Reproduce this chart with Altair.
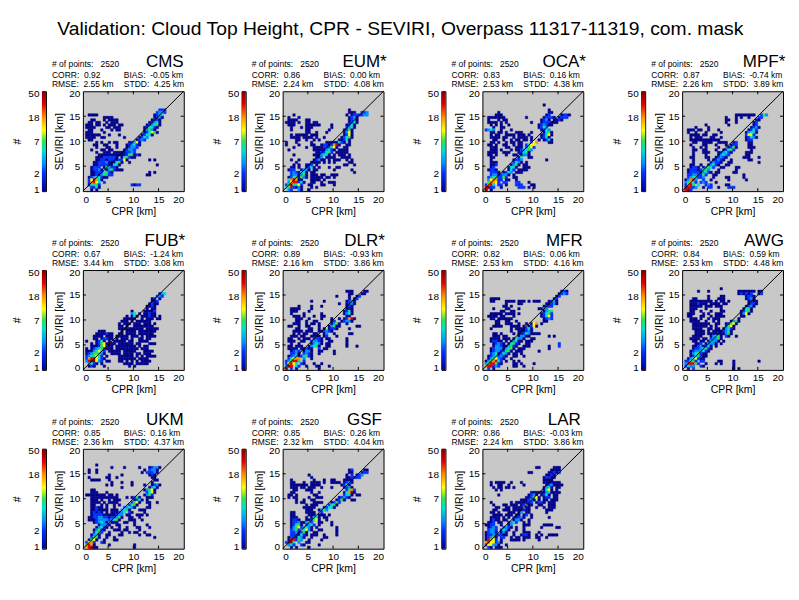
import altair as alt
import pandas as pd

FONT = "Liberation Sans"
TITLE = "Validation: Cloud Top Height, CPR - SEVIRI, Overpass 11317-11319, com. mask"
POINTS = 2520
NAMES = ["CMS", "EUM*", "OCA*", "MPF*", "FUB*", "DLR*", "MFR", "AWG", "UKM", "GSF", "LAR"]
CORR = ["0.92", "0.86", "0.83", "0.87", "0.67", "0.89", "0.82", "0.84", "0.85", "0.85", "0.86"]
BIAS = ["-0.05", "0.00", "0.16", "-0.74", "-1.24", "-0.93", "0.06", "0.59", "0.16", "0.26", "-0.03"]
RMSE = ["2.55", "2.24", "2.53", "2.26", "3.44", "2.16", "2.53", "2.53", "2.36", "2.32", "2.24"]
STDD = ["4.25", "4.08", "4.38", "3.89", "3.08", "3.86", "4.16", "4.48", "4.37", "4.04", "3.86"]

# level code -> number of points in a cell
COUNTS = [None, 1, 2, 3, 5, 7, 11, 18, 30, 48]
COLORS = ["#00008c", "#0030ff", "#0090ff", "#00e0d0", "#30e050", "#ffff00", "#ff9000", "#e00000", "#800000"]
CB_TICKS = [1, 2, 7, 18, 50]
AX_TICKS = [0, 5, 10, 15, 20]
DIAG_LO = 0
DIAG_HI = 20

# (row, column, level codes): a cell is 0.5 km wide, row = SEVIRI / 0.5, column = CPR / 0.5
CMS = [(32,30,"222"),(31,29,"2332"),(30,2,"1111"),(30,28,"1234"),(29,8,"1111"),(29,28,"1231"),
(28,3,"11"),(28,8,"1.1111"),(28,27,"1221"),(27,2,"11.11"),(27,9,"1.111"),(27,26,"12341"),
(26,1,"111.11"),(26,8,"1.111.11"),(26,25,"123451"),(25,1,"1111"),(25,9,"11.111"),(25,24,"124421"),
(24,2,"11"),(24,7,"1...1"),(24,13,"11"),(24,24,"13531"),(23,1,"111"),(23,8,"1"),(23,24,"124651"),
(22,1,"111111"),(22,10,"1"),(22,14,"1"),(22,23,"12441"),(21,1,"1111"),(21,7,"11"),(21,16,"1"),(21,22,"1243"),
(20,2,"11"),(20,21,"1232"),(19,5,"1.1"),(19,10,"1"),(19,12,"11"),(19,18,"12361"),
(18,4,"11"),(18,8,"11"),(18,13,"1"),(18,17,"123421"),(17,5,"1"),(17,9,"11"),(17,13,"1"),(17,17,"12332"),
(16,3,"1"),(16,7,"11"),(16,10,"11"),(16,16,"12332"),(15,5,"1"),(15,8,"111"),(15,12,"1111"),(15,16,"12232"),
(14,6,"1111111111"),(14,16,"12551"),(14,21,"21"),(13,5,"111222221"),(13,15,"1452"),(13,19,"11"),
(12,5,"112212221"),(12,14,"2261"),(12,26,"1.1"),(11,4,"11222311"),(11,12,"1451"),(11,18,"1"),
(10,4,"1122221"),(10,11,"1441"),(10,29,"1"),(9,3,"1222"),(9,8,"153221"),(8,3,"12231"),(8,9,"1352"),(8,13,"111"),
(7,3,"1122"),(7,7,"2452"),(7,11,"1"),(7,26,"1.1"),(6,3,"112"),(6,6,"1354"),(6,10,"22"),(6,25,"11"),
(5,2,"1234421"),(5,9,"1"),(4,2,"268741"),(3,2,"27864"),(3,8,"2"),(2,2,"14552"),(2,19,"2122"),(1,3,"2241"),(0,3,"1.1")]

EUM = [(32,26,"1"),(31,26,"111"),(31,31,"223"),(30,4,"1"),(30,25,"1"),(30,27,"1222"),(30,31,"233"),
(29,2,"1"),(29,6,"1"),(29,26,"1231"),(28,2,"1111"),(28,9,"11"),(28,26,"1231"),(27,1,"1111"),(27,6,"1"),(27,9,"11"),(27,12,"11"),(27,26,"1241"),
(26,2,"111"),(26,9,"1111"),(26,13,"11"),(26,19,"1"),(26,25,"1241"),(25,3,"1"),(25,7,"1"),(25,9,"111"),(25,19,"1"),(25,25,"2341"),
(24,3,"1"),(24,9,"11"),(24,18,"1"),(24,24,"1251"),(23,9,"11"),(23,13,"1"),(23,17,"1"),(23,24,"1361"),
(22,3,"1"),(22,5,"11111"),(22,11,"111"),(22,24,"1261"),(21,3,"1111"),(21,8,"1111"),(21,13,"1"),(21,16,"1"),(21,23,"12451"),
(20,5,"11"),(20,9,"1"),(20,12,"1"),(20,14,"1"),(20,22,"11241"),(19,1,"1"),(19,5,"1"),(19,11,"1"),(19,17,"1111"),(19,21,"1421"),(19,26,"1"),
(18,1,"1"),(18,6,"1"),(18,11,"11"),(18,15,"1221"),(18,19,"2781"),(18,25,"11"),(17,4,"1"),(17,9,"1"),(17,12,"111"),(17,15,"122"),(17,18,"2561"),(17,24,"11"),
(16,2,"1"),(16,12,"1111"),(16,16,"13421"),(16,22,"1111"),(15,13,"112"),(15,16,"2452"),(15,21,"11111"),
(14,4,"1"),(14,12,"111"),(14,15,"3441"),(14,20,"1.111.1"),(13,13,"113"),(13,17,"1111"),(13,23,"1111"),
(12,3,"1"),(12,6,"1"),(12,12,"1231"),(12,16,"1.1.111"),(12,25,"1"),(12,27,"1"),(11,5,"1"),(11,11,"1111"),(11,16,"1"),(11,18,"1.1"),(11,26,"11"),
(10,4,"1"),(10,6,"1"),(10,9,"112"),(10,13,"1"),(10,24,"11"),(10,28,"1"),(9,3,"11"),(9,6,"1"),(9,9,"1241"),(9,14,"1"),(9,18,"1"),(9,21,"11"),
(8,2,"122"),(8,7,"1331"),(8,12,"11"),(8,20,"1"),(8,27,"1"),(7,3,"232"),(7,6,"1441"),(7,11,"11"),(7,28,"1"),
(6,3,"2331"),(6,7,"351"),(6,11,"111"),(6,15,"11"),(6,19,"111"),(5,2,"12451"),(5,7,"531"),(5,11,"11111"),(5,17,"11"),(5,20,"1"),
(4,2,"47871"),(4,7,"1"),(4,11,"1111"),(4,16,"1"),(3,2,"36882"),(3,7,"41"),(3,11,"11"),(3,15,"1"),(3,18,"111"),
(2,1,"25954"),(2,6,"62"),(2,10,"11"),(2,15,"11"),(2,20,"1"),(1,1,"45821"),(1,6,"31"),(1,11,"1"),(1,13,"1"),(0,2,"32"),(0,6,"31"),(0,10,"1")]

OCA = [(34,24,"1"),(32,26,"1"),(31,6,"1"),(31,26,"11"),(30,5,"111"),(30,25,"12"),(30,31,"1221"),(29,2,"11111"),(29,7,"11"),(29,17,"1"),(29,24,"12221"),(29,30,"1222"),
(28,2,"1"),(28,6,"1.1"),(28,9,"1"),(28,23,"1231"),(28,28,"1121"),(27,2,"1111.1.1"),(27,19,"1"),(27,23,"12221"),(27,28,"11"),
(26,3,"1.1"),(26,7,"1"),(26,10,"1"),(26,22,"12321"),(26,27,"1"),(25,4,"1"),(25,7,"11"),(25,22,"1243"),(24,1,"2343"),(24,7,"1"),(24,11,"1"),(24,23,"1243"),
(23,3,"11"),(23,6,"11"),(23,9,"1"),(23,13,"111"),(23,19,"1"),(23,24,"1451"),(22,3,"1.1"),(22,6,"1"),(22,9,"1111"),(22,14,"111"),(22,18,"1"),(22,23,"12461"),
(21,3,"1111"),(21,8,"11"),(21,12,"1.11"),(21,16,"11"),(21,19,"1"),(21,23,"1241"),(20,4,"11"),(20,8,"1"),(20,11,"1.11.11.1"),(20,22,"1"),(20,24,"1241"),
(19,3,"11.1"),(19,9,"1"),(19,11,"11.11"),(19,19,"267"),(19,26,"11"),(18,2,"11.1"),(18,8,"11"),(18,12,"1.11"),(18,17,"2466"),
(17,3,"111"),(17,9,"11"),(17,13,"111"),(17,17,"2562"),(16,3,"111"),(16,7,"1"),(16,11,"1"),(16,13,"1123453"),(15,2,"1111"),(15,8,"111"),(15,14,"12451"),
(14,2,"11"),(14,5,"1"),(14,9,"1"),(14,12,"11"),(14,15,"1331"),(13,3,"11"),(13,14,"14"),(13,18,"11"),(12,3,"1"),(12,12,"1223"),(12,25,"1"),
(11,3,"111"),(11,12,"2431"),(11,17,"1"),(10,3,"112"),(10,11,"1351"),(10,16,"11"),(9,3,"12"),(9,10,"1441"),(9,16,"111"),
(8,2,"1221"),(8,10,"142"),(8,14,"1111"),(7,3,"2221"),(7,8,"1243"),(7,13,"111"),(6,3,"2331"),(6,7,"2331"),(6,12,"1"),
(5,2,"23452"),(5,7,"252"),(5,12,"11"),(4,2,"36772"),(4,7,"2"),(4,9,"11"),(4,13,"1"),(3,2,"57762"),(3,8,"22"),(3,13,"22"),(3,18,"1"),
(2,1,"2784"),(2,6,"22"),(2,9,"1"),(2,13,"222"),(2,19,"11"),(1,1,"892"),(1,4,"2"),(1,7,"1"),(1,14,"222"),(1,18,"1"),(1,20,"1"),(0,1,"9"),(0,3,"1")]

MPF = [(30,21,"11111111"),(30,31,"253"),(29,17,"1"),(29,21,"1.1"),(29,26,"1"),(29,30,"22"),(28,17,"11"),(28,21,"1"),(28,29,"11"),(27,17,"1"),(27,21,"1"),(27,28,"12"),
(26,18,"1"),(26,9,"1"),(26,28,"12"),(25,5,"1"),(25,10,"1"),(25,27,"1231"),(24,2,"111"),(24,6,"11"),(24,10,"1"),(24,14,"1"),(24,26,"1242"),
(23,2,"1"),(23,5,"1"),(23,9,"1"),(23,15,"1"),(23,25,"13441"),(22,3,"1111"),(22,8,"11"),(22,12,"11"),(22,25,"2662"),(21,3,"1.1"),(21,6,"11"),(21,11,"11"),(21,15,"1"),(21,25,"12431"),
(20,3,"111111"),(20,9,"111111"),(20,25,"122"),(19,4,"11"),(19,8,"111"),(19,11,"1"),(19,14,"1111"),(19,20,"12"),(19,26,"11"),
(18,3,"1"),(18,8,"11"),(18,13,"1"),(18,17,"1"),(18,19,"122"),(18,26,"11"),(17,4,"1"),(17,7,"1.1"),(17,14,"1"),(17,18,"1251"),(17,26,"111"),
(16,4,"11"),(16,8,"11"),(16,13,"1"),(16,16,"12452"),(16,27,"1"),(15,4,"1"),(15,8,"111"),(15,14,"123421"),(15,25,"111"),(14,4,"1"),(14,9,"1"),(14,14,"13432"),(14,25,"11"),
(13,3,"11"),(13,9,"11"),(13,13,"12321"),(13,24,"111"),(13,30,"1"),(12,4,"1"),(12,10,"1"),(12,12,"12321"),(12,19,"1"),(12,26,"11"),
(11,4,"1"),(11,11,"23221"),(11,18,"11"),(11,30,"1"),(10,3,"11"),(10,7,"1"),(10,10,"13421"),(10,17,"11"),(9,3,"1221"),(9,8,"13542"),(9,15,"11"),(9,21,"11"),
(8,2,"12221"),(8,7,"2453"),(8,14,"1"),(8,21,"1"),(7,2,"122221"),(7,8,"3421"),(7,13,"11"),(7,20,"11"),(6,2,"22332"),(6,7,"252"),(6,12,"11"),(6,24,"1"),
(5,2,"23452"),(5,7,"23"),(5,12,"1"),(5,17,"11"),(5,24,"1"),(4,1,"1378"),(4,5,"3"),(4,8,"2"),(4,11,"1"),(4,18,"1"),(4,25,"1"),(3,1,"35742"),(3,7,"232"),(3,13,"1"),
(2,1,"2785"),(2,6,"4"),(2,9,"232"),(2,17,"11"),(1,1,"2882"),(1,5,"3"),(1,8,"1"),(1,10,"22"),(1,14,"1"),(1,18,"222"),(0,1,"89"),(0,3,"2")]

FUB = [(30,30,"134"),(29,29,"232"),(28,27,"12"),(28,30,"1"),(27,27,"112"),(26,26,"1211"),(25,25,"1121"),(24,25,"1.11"),(23,19,"1"),(23,24,"11112"),
(22,19,"34"),(22,22,"1"),(22,24,"11211"),(21,17,"1"),(21,19,"141"),(21,23,"111211"),(21,30,"1"),(20,16,"1111"),(20,20,"1"),(20,23,"1.111.11"),
(19,15,"111.1.111111"),(18,14,"1"),(18,16,"111"),(18,20,"111.111.1"),(17,14,"11"),(17,17,"1"),(17,20,"11111111"),(16,14,"1111111111.11111"),
(15,6,"11"),(15,8,"1"),(15,15,"1.1111.1111111"),(14,5,"11"),(14,7,"11211"),(14,14,"11.1111.111111"),(13,4,"1111"),(13,9,"111"),(13,13,"11111.111.1.1111"),
(12,4,"11"),(12,7,"12211"),(12,13,"1.111.1..11.11"),(11,1,"1"),(11,5,"1241"),(11,10,"1"),(11,12,"11111.11..1111"),(10,3,"1"),(10,5,"1256"),(10,9,"1111"),(10,14,"111111.11...111"),
(9,3,"11"),(9,5,"12562"),(9,10,"11"),(9,13,"11111111.1.11"),(8,1,"1"),(8,3,"1234521"),(8,10,"11"),(8,13,"111111111.111"),(7,1,"11"),(7,3,"134642"),(7,10,"111"),(7,13,"11.11111...1111"),
(6,1,"12355431"),(6,11,"1111.1111.11.111"),(5,1,"2345652"),(5,9,"1"),(5,14,"111111.1.1.1111"),(4,1,"278864"),(4,7,"21"),(4,14,"1111111.1111"),(3,1,"389963"),(3,7,"2"),(3,9,"11"),(3,14,"11.1.1.1.1111"),
(2,2,"3421"),(2,7,"1"),(2,16,"1111.11111"),(1,2,"121"),(1,8,"1"),(1,18,"1.1")]

DLR = [(31,25,"111"),(31,32,"11"),(30,26,"11"),(30,31,"11"),(29,21,"1"),(29,26,"1"),(29,29,"12"),(28,26,"1"),(28,28,"12"),(27,11,"1"),(27,16,"1"),(27,25,"1231"),
(26,22,"1"),(26,25,"1231"),(25,6,"1"),(25,11,"1"),(25,15,"1"),(25,25,"121"),(24,3,"1111"),(24,11,"1"),(24,25,"111"),(23,3,"111"),(23,10,"1"),(23,24,"1241"),
(22,3,"1"),(22,8,"1"),(22,15,"1"),(22,24,"1341"),(21,4,"111"),(21,8,"1"),(21,12,"1"),(21,15,"11"),(21,25,"11"),(20,5,"111"),(20,10,"1"),(20,15,"1"),(20,19,"1"),(20,22,"1"),(20,24,"12781"),
(19,5,"11"),(19,9,"1"),(19,12,"11"),(19,19,"12"),(19,23,"12331"),(18,4,"111"),(18,9,"1.11"),(18,14,"1"),(18,19,"1351"),(18,25,"1"),(17,2,"11"),(17,6,"1"),(17,9,"11"),(17,14,"1"),(17,18,"13511"),(17,29,"11"),
(16,5,"11"),(16,10,"11"),(16,14,"1.1"),(16,18,"1221"),(16,26,"1"),(15,4,"1111"),(15,9,"111"),(15,14,"112321"),(14,4,"1.1"),(14,8,"11"),(14,12,"11"),(14,16,"13"),(14,20,"1"),(14,26,"11"),
(13,3,"111"),(13,7,"11"),(13,11,"1111"),(13,16,"12"),(13,21,"1"),(12,2,"11"),(12,6,"1"),(12,8,"111"),(12,12,"2221"),(12,17,"11"),(12,25,"1"),(11,2,"111"),(11,7,"11"),(11,11,"23321"),(11,18,"11"),(11,25,"1"),
(10,3,"1"),(10,6,"1"),(10,11,"13431"),(10,17,"11"),(10,25,"1"),(9,2,"11"),(9,5,"111"),(9,10,"13451"),(9,17,"11"),(9,25,"1"),(9,29,"1"),(8,2,"1111"),(8,7,"11211"),(8,14,"2"),(8,16,"11"),
(7,3,"1232"),(7,8,"1331"),(7,14,"11"),(7,20,"1"),(6,3,"2231"),(6,8,"2321"),(6,14,"1"),(6,20,"1"),(5,2,"12341"),(5,7,"245"),(5,10,"21"),(4,2,"24677"),(4,8,"3"),(4,11,"1"),
(3,1,"235885"),(3,8,"2"),(2,1,"26864"),(2,7,"21"),(2,12,"1"),(2,15,"1"),(1,1,"398"),(1,5,"42"),(1,9,"1"),(1,13,"11"),(1,18,"1"),(0,1,"9"),(0,3,"2"),(0,5,"1"),(0,14,"1")]

MFR = [(31,31,"121"),(30,30,"1232"),(29,29,"12"),(28,3,"1111"),(28,28,"12"),(27,3,"11"),(27,9,"1111.111.1.111"),(27,26,"1231"),(26,9,"1"),(26,14,"11"),(26,25,"11231"),
(25,8,"11.1"),(25,24,"1222"),(24,4,"1"),(24,9,"11"),(24,14,"1"),(24,22,"1133"),(23,7,"11"),(23,11,"11"),(23,24,"1345"),(22,3,"11111"),(22,9,"1111"),(22,14,"1"),(22,23,"12452"),
(21,2,"1111"),(21,7,"11"),(21,12,"1"),(21,23,"12462"),(20,3,"11"),(20,6,"1111"),(20,10,"11"),(20,24,"1232"),(19,5,"11"),(19,9,"11"),(19,13,"1"),(19,24,"11"),
(18,5,"11"),(18,9,"111"),(18,14,"1"),(18,17,"1"),(18,19,"167"),(18,23,"1"),(17,4,"1111"),(17,11,"1111"),(17,16,"1"),(17,18,"1261"),(16,3,"1"),(16,11,"1.111"),(16,16,"1241"),
(15,11,"1"),(15,14,"11"),(15,16,"1231"),(14,4,"11"),(14,7,"1"),(14,12,"1"),(14,14,"112431"),(14,20,"11"),(14,22,"1"),(13,4,"111"),(13,8,"11"),(13,14,"1331"),(13,18,"1"),(13,26,"1"),(13,28,"1"),
(12,3,"1111"),(12,8,"111"),(12,12,"14331"),(12,19,"11"),(11,3,"12211"),(11,9,"1"),(11,11,"13411"),(11,17,"111"),(10,4,"12321"),(10,10,"14521"),(10,17,"11"),(10,30,"2"),
(9,4,"13321"),(9,9,"13521"),(9,16,"111"),(9,26,"1"),(9,30,"2"),(8,3,"123331"),(8,9,"3451"),(8,14,"111"),(8,26,"1"),(7,3,"12332"),(7,8,"2551"),(7,13,"111"),(7,22,"1"),
(6,3,"2341"),(6,7,"2431"),(6,12,"11"),(6,15,"1"),(5,2,"1234"),(5,6,"2321"),(5,12,"11"),(5,16,"1"),(4,2,"1356"),(4,6,"321"),(4,11,"1"),(3,1,"13578"),(3,6,"42"),(3,9,"1"),(3,12,"1"),(3,14,"1"),
(2,1,"3588"),(2,5,"521"),(2,12,"11"),(2,15,"1"),(2,20,"1"),(1,1,"7882"),(1,5,"32"),(1,12,"11"),(1,16,"1"),(0,2,"2"),(0,4,"1")]

AWG = [(32,15,"1"),(31,6,"1"),(31,10,"1"),(31,22,"1111111.11"),(30,22,"121212"),(30,30,"12"),(29,10,"1"),(29,15,"11"),(29,25,"1221"),(28,4,"11"),(28,10,"1"),(28,14,"111"),(28,25,"1231"),
(27,3,"111111111"),(27,13,"1.11.1"),(27,26,"1211"),(26,3,"1112111.1111.11"),(26,26,"1221"),(25,3,"11111"),(25,9,"111"),(25,13,"111"),(25,25,"1231"),(24,3,"111"),(24,9,"1"),(24,15,"1"),(24,24,"1451"),
(23,3,"11"),(23,7,"1"),(23,11,"1"),(23,15,"11"),(23,23,"12451"),(22,2,"111"),(22,8,"1.1"),(22,13,"111"),(22,23,"1361"),(21,2,"11"),(21,7,"11"),(21,11,"1"),(21,13,"1111"),(21,23,"11"),
(20,3,"111"),(20,7,"1"),(20,10,"1.111"),(20,22,"1"),(19,3,"111"),(19,6,"1"),(19,9,"1"),(19,12,"1"),(19,14,"1"),(19,19,"1351"),(18,4,"1111111"),(18,13,"11"),(18,17,"12561"),
(17,4,"111111"),(17,11,"1"),(17,13,"1"),(17,17,"2561"),(16,4,"1111"),(16,10,"11"),(16,13,"11"),(16,16,"13421"),(15,5,"1111"),(15,10,"1.111"),(15,15,"12341"),(14,5,"1111.1111"),(14,14,"111351"),
(13,4,"1111"),(13,11,"13451"),(13,17,"21"),(13,21,"1"),(12,3,"1111"),(12,8,"11"),(12,11,"23351"),(11,4,"11"),(11,7,"11"),(11,10,"14331"),(11,16,"1"),(10,5,"112"),(10,9,"13331"),(10,15,"1"),
(9,4,"11231"),(9,9,"241"),(9,13,"1"),(8,4,"1223"),(8,8,"4521"),(7,3,"1233"),(7,7,"3421"),(6,3,"13452"),(6,8,"11"),(5,3,"12452"),(5,8,"11"),(4,2,"1346"),(4,6,"21"),(4,8,"1"),
(3,1,"22452"),(3,7,"22"),(3,14,"11"),(3,20,"1"),(3,30,"1"),(2,1,"388852"),(2,9,"1"),(2,13,"1"),(2,15,"1"),(2,20,"1"),(1,1,"2433"),(1,7,"21"),(1,20,"1"),(0,2,"1"),(0,4,"2"),(0,20,"1"),(0,22,"1")]

UKM = [(33,5,"1"),(32,11,"1"),(32,16,"1"),(32,22,"1"),(32,26,"12331"),(31,2,"1"),(31,5,"1"),(31,24,"1"),(31,26,"2331"),(30,2,"1"),(30,5,"1"),(30,23,"1"),(30,25,"22231"),
(29,10,"1"),(29,15,"1"),(29,26,"121"),(28,2,"1"),(28,9,"11"),(28,13,"1"),(28,27,"11"),(27,3,"1111"),(27,10,"1"),(27,28,"11"),(26,11,"1"),(26,15,"1"),(26,19,"1"),(26,27,"1"),
(25,9,"1"),(25,11,"1"),(25,19,"1"),(25,24,"1"),(25,27,"1231"),(24,15,"1"),(24,26,"1341"),(23,3,"11"),(23,24,"13561"),(22,3,"111"),(22,9,"1"),(22,25,"2461"),
(21,1,"11111"),(21,6,"111"),(21,10,"11"),(21,13,"1"),(21,24,"1352"),(20,3,"1111"),(20,7,"111111"),(20,13,"1"),(20,17,"1"),(20,19,"1251"),(20,25,"111"),(19,3,"111.1"),(19,10,"1.111"),(19,20,"1241"),(19,25,"1"),
(18,3,"1111"),(18,8,"1.1"),(18,11,"111"),(18,19,"2561"),(18,25,"11"),(18,29,"1"),(17,3,"11"),(17,7,"1.1"),(17,12,"1.1"),(17,18,"2551"),(17,26,"1"),(16,3,"11211"),(16,9,"1"),(16,12,"1"),(16,16,"23431"),(16,25,"11"),
(15,3,"1121"),(15,7,"111"),(15,11,"111"),(15,15,"3451"),(15,22,"111"),(14,3,"1212"),(14,7,"1.1"),(14,11,"111234"),(14,18,"21"),(14,24,"1"),(13,3,"1222211111233"),(13,17,"11"),(13,21,"111"),(13,25,"1"),
(12,2,"11223322122351"),(12,18,"11"),(12,22,"1"),(11,2,"1112333323"),(11,12,"451"),(11,18,"111"),(11,23,"1"),(10,4,"123431"),(10,11,"111"),(10,16,"11"),(10,20,"1"),(9,6,"13331"),(9,13,"11"),(9,20,"1"),(9,25,"1"),
(8,5,"13421"),(8,11,"1"),(8,14,"1"),(8,17,"1"),(8,21,"11"),(8,26,"1"),(7,4,"13521"),(7,12,"111"),(7,16,"11"),(7,22,"1"),(6,4,"2452"),(6,10,"1"),(6,15,"1"),(6,18,"1"),(6,20,"11"),(6,24,"1"),
(5,3,"1341"),(5,9,"11"),(5,14,"11"),(5,22,"1"),(5,25,"11"),(4,3,"2551"),(4,9,"1"),(4,12,"1"),(4,28,"1"),(3,2,"1561"),(3,8,"1"),(3,12,"11"),(2,1,"2672"),(2,7,"21"),(1,1,"5871"),(1,10,"1"),(1,20,"1"),(0,1,"789"),(0,4,"11"),(0,20,"1")]

GSF = [(31,26,"12"),(31,32,"11"),(30,26,"11"),(30,31,"122"),(29,10,"1"),(29,25,"1.2"),(29,29,"123"),(28,11,"1"),(28,25,"112"),(28,28,"122"),(27,3,"1"),(27,12,"1"),(27,16,"1"),(27,19,"11"),(27,24,"1111"),
(26,3,"11"),(26,8,"1"),(26,11,"1111"),(26,16,"1"),(26,19,"1111"),(26,24,"1231"),(25,3,"1111111"),(25,11,"1111"),(25,23,"1251"),(24,3,"111"),(24,7,"11"),(24,10,"111"),(24,15,"1"),(24,19,"1"),(24,24,"1231"),
(23,4,"11"),(23,9,"111"),(23,25,"2572"),(22,3,"11"),(22,11,"1"),(22,14,"1"),(22,24,"14791"),(21,2,"11.1"),(21,12,"11"),(21,24,"2441"),(21,29,"11"),(20,2,"1.11"),(20,10,"1"),(20,13,"111"),(20,22,"12321"),
(19,5,"1"),(19,8,"1"),(19,11,"11"),(19,21,"1251"),(19,27,"11"),(18,5,"1"),(18,7,"11"),(18,12,"1111"),(18,19,"1252"),(17,9,"1"),(17,11,"111"),(17,18,"2451"),(16,8,"11111"),(16,16,"12441"),
(15,9,"111"),(15,14,"1353"),(14,3,"11"),(14,9,"1111"),(14,15,"2"),(13,3,"11"),(13,10,"111"),(13,14,"111"),(13,18,"1"),(12,3,"111"),(12,9,"1"),(12,11,"1441"),(12,16,"11"),
(11,3,"1221"),(11,9,"11"),(11,11,"2561"),(11,17,"1"),(10,3,"12231"),(10,8,"1352"),(10,14,"11"),(10,19,"1"),(9,3,"12451"),(9,9,"2342"),(9,14,"1"),(9,19,"1"),(8,3,"13562"),(8,8,"3431"),(8,13,"1"),(8,21,"1"),
(7,3,"2352"),(7,8,"4631"),(7,14,"11"),(7,21,"1"),(6,3,"2231"),(6,7,"251"),(6,12,"11"),(6,21,"1"),(5,3,"2221"),(5,7,"421"),(5,11,"111"),(5,16,"1"),(5,21,"1"),(4,2,"1221"),(4,6,"431"),(4,11,"1"),(4,16,"11"),
(3,2,"1882"),(3,6,"53"),(3,10,"1"),(3,15,"1"),(2,1,"2994"),(2,6,"3"),(2,9,"11"),(1,2,"342"),(1,7,"21"),(1,14,"1"),(0,3,"1"),(0,5,"1"),(0,10,"1")]

LAR = [(32,21,"11"),(32,28,"111"),(31,27,"1111"),(30,18,"11"),(30,26,"11212"),(29,25,"1121"),(28,24,"12211"),(27,24,"1111"),(26,3,"1.1111"),(26,11,"1"),(26,15,"1"),(26,24,"111"),(26,27,"1111"),
(25,3,"1"),(25,6,"11"),(25,10,"1"),(25,16,"1"),(25,25,"1231"),(25,29,"111"),(24,4,"1"),(24,6,"11"),(24,9,"11"),(24,12,"1"),(24,24,"1341"),(24,29,"11"),(23,5,"1"),(23,7,"1"),(23,24,"1461"),(23,29,"1"),
(22,19,"1111"),(22,23,"11341"),(22,28,"111"),(21,6,"1"),(21,18,"1231"),(21,23,"1241"),(21,28,"11"),(20,17,"112"),(20,20,"561"),(20,24,"122"),(20,28,"11"),(19,15,"111231"),(19,22,"1"),(19,24,"11"),(19,27,"111"),
(18,3,"1"),(18,11,"1"),(18,13,"1111"),(18,17,"122"),(18,21,"1221"),(18,26,"111"),(17,4,"1"),(17,8,"11"),(17,11,"111.12"),(17,18,"11"),(17,22,"11"),(17,26,"111"),(16,5,"11"),(16,9,"11"),(16,12,"1111"),(16,17,"11"),(16,21,"1"),(16,24,"1"),(16,26,"111"),
(15,4,"11"),(15,8,"111"),(15,12,"111121"),(15,18,"1"),(15,25,"111"),(14,3,"11"),(14,6,"1"),(14,10,"111.13"),(14,17,"11"),(14,25,"1"),(13,4,"1111.111"),(13,13,"11"),(13,16,"12"),(13,19,"1"),
(12,3,"1111"),(12,8,"1.1"),(12,12,"21231"),(12,19,"1"),(12,26,"1"),(11,3,"1211"),(11,8,"11"),(11,12,"1331"),(11,18,"1"),(10,2,"112"),(10,6,"11"),(10,10,"1342"),(10,16,"1"),(10,18,"1"),
(9,1,"1122"),(9,7,"1"),(9,10,"13"),(9,16,"111"),(9,24,"1111"),(8,2,"1232"),(8,8,"2321"),(8,13,"1"),(8,16,"1"),(8,23,"1"),(8,29,"11"),(7,2,"2332"),(7,7,"2431"),(7,13,"1"),(7,16,"1"),
(6,1,"12331"),(6,7,"131"),(6,12,"1"),(6,16,"111"),(6,22,"1"),(5,1,"12232"),(5,6,"2211"),(5,12,"1"),(5,15,"1221"),(5,21,"1"),(5,23,"1"),(5,26,"1111"),(4,1,"12351"),(4,7,"22"),(4,11,"1"),(4,13,"11"),(4,16,"111"),(4,21,"11"),(4,25,"1"),
(3,1,"18762"),(3,7,"1"),(3,11,"1111"),(3,16,"1"),(3,22,"1"),(2,1,"78662"),(2,6,"31"),(1,1,"2663"),(1,5,"31"),(1,9,"1"),(0,2,"21"),(0,5,"111")]

GRIDS = [CMS, EUM, OCA, MPF, FUB, DLR, MFR, AWG, UKM, GSF, LAR]

PLOT_W = 101
PLOT_H = 100
BAR_W = 4
TXT = "#000000"


def cells(segs):
    out = {}
    for r, c, codes in segs:
        for i, ch in enumerate(codes):
            if ch != ".":
                out[(r, c + i)] = COUNTS[int(ch)]
    return pd.DataFrame(
        [{"x": c / 2, "x2": (c + 1) / 2, "y": r / 2, "y2": (r + 1) / 2, "n": v} for (r, c), v in out.items()]
    )


def label(text, x, y, size=8.5, align="left"):
    return (
        alt.Chart(pd.DataFrame({"t": [text]}))
        .mark_text(align=align, baseline="alphabetic", fontSize=size, font=FONT, color=TXT)
        .encode(text="t:N", x=alt.value(x), y=alt.value(y))
    )


SX = alt.Scale(domain=[0, 20], nice=False)
SY = alt.Scale(domain=[0, 20], nice=False)
AXS = dict(values=AX_TICKS, tickCount=5, grid=False, ticks=False, domain=False, labelFontSize=10, labelFont=FONT, labelOverlap=False,
           labelColor=TXT, titleFontSize=10.5, titleFont=FONT, titleFontWeight="normal", titleColor=TXT)
AXIS_X = alt.Axis(title="CPR [km]", labelPadding=3, titlePadding=2, **AXS)
AXIS_Y = alt.Axis(title="SEVIRI [km]", labelPadding=3, titlePadding=4, labelFlush=True, labelFlushOffset=3, **AXS)
GAP = "\u00a0"
COLOR_SCALE = alt.Scale(type="log", domain=COUNTS[1:], range=COLORS)


def panel(i):
    heat = alt.Chart(cells(GRIDS[i])).mark_rect(strokeWidth=0.4).encode(
        x=alt.X("x:Q", scale=SX, axis=AXIS_X),
        x2="x2:Q",
        y=alt.Y("y:Q", scale=SY, axis=AXIS_Y),
        y2="y2:Q",
        color=alt.Color("n:Q", legend=None, scale=COLOR_SCALE),
        stroke=alt.Color("n:Q", legend=None, scale=COLOR_SCALE),
    )
    diag = alt.Chart(pd.DataFrame({"a": [DIAG_LO], "b": [DIAG_HI]})).mark_rule(color="black", strokeWidth=1).encode(
        x=alt.X("a:Q", scale=SX, axis=AXIS_X), x2="b:Q", y=alt.Y("a:Q", scale=SY, axis=AXIS_Y), y2="b:Q")
    tv = pd.DataFrame({"v": AX_TICKS[1:-1]})
    ticks = [
        alt.Chart(tv).mark_rule(color="black", strokeWidth=1).encode(x=alt.X("v:Q", scale=SX, axis=AXIS_X), y=alt.value(PLOT_H), y2=alt.value(PLOT_H - 3)),
        alt.Chart(tv).mark_rule(color="black", strokeWidth=1).encode(x=alt.X("v:Q", scale=SX, axis=AXIS_X), y=alt.value(0), y2=alt.value(3)),
        alt.Chart(tv).mark_rule(color="black", strokeWidth=1).encode(y=alt.Y("v:Q", scale=SY, axis=AXIS_Y), x=alt.value(0), x2=alt.value(3)),
        alt.Chart(tv).mark_rule(color="black", strokeWidth=1).encode(y=alt.Y("v:Q", scale=SY, axis=AXIS_Y), x=alt.value(PLOT_W), x2=alt.value(PLOT_W - 3)),
    ]
    texts = [
        label(f"# of points:{GAP}{GAP}{GAP}{POINTS}", -31, -24),
        label(f"CORR:{GAP}{GAP}{CORR[i]}", -31, -13),
        label(f"RMSE:{GAP}{GAP}{RMSE[i]} km", -31, -4),
        label(f"BIAS:{GAP}{GAP}{BIAS[i]} km", 41, -13),
        label(f"STDD:{GAP}{GAP}{STDD[i]} km", 41, -4),
        label(NAMES[i], 82, -24, size=17, align="center"),
    ]
    plot = alt.layer(heat, diag, *ticks, *texts).properties(width=PLOT_W, height=PLOT_H)
    stops = [0.0, 0.18, 0.28, 0.41, 0.5, 0.61, 0.74, 0.87, 1.0]
    bar = alt.Chart(pd.DataFrame({"lo": [1], "hi": [50]})).mark_rect(
        fill=alt.LinearGradient(gradient="linear", x1=0, x2=0, y1=1, y2=0,
                                stops=[alt.GradientStop(offset=o, color=c) for o, c in zip(stops, COLORS)])
    ).encode(
        y=alt.Y("lo:Q", scale=alt.Scale(type="log", domain=[1, 50], nice=False),
                axis=alt.Axis(title="#", values=CB_TICKS, grid=False, ticks=False, domain=False, labelFontSize=10,
                              labelFont=FONT, labelColor=TXT, labelPadding=3, labelOverlap=False, labelFlush=True, labelFlushOffset=3,
                              titleFontSize=10.5, titleFont=FONT,
                              titleFontWeight="normal", titleColor=TXT, titlePadding=5, format="d")),
        y2="hi:Q",
        x=alt.value(0), x2=alt.value(BAR_W),
    ).properties(width=BAR_W, height=PLOT_H)
    return alt.hconcat(bar, plot, spacing=37, bounds="flush")


# with flush bounds a nested concat counts as zero-sized, so these spacings are the panel periods
chart = alt.concat(*[panel(i) for i in range(len(NAMES))], columns=4, spacing={"row": 179, "column": 200}, bounds="flush").properties(
    title=alt.TitleParams(TITLE, font=FONT, fontSize=19.3, fontWeight="normal", color=TXT, anchor="start", dx=45, offset=14),
    padding={"left": 4, "top": 11, "right": 5, "bottom": 5},
).configure_view(fill="#c8c8c8", stroke="black", strokeWidth=1)
chart.save("out.html", embed_options={"renderer": "svg", "actions": False})
